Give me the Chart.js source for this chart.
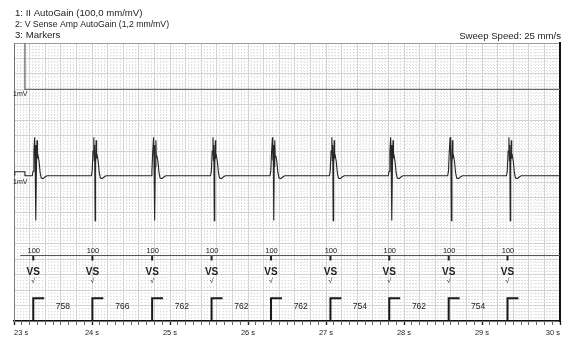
<!DOCTYPE html>
<html>
<head>
<meta charset="utf-8">
<title>Sweep recording</title>
<script src="https://cdn.jsdelivr.net/npm/chart.js@4.4.1/dist/chart.umd.min.js"></script>
<style>
  html, body { margin: 0; padding: 0; background: #fff; }
</style>
</head>
<body>
<canvas id="sweep" width="574" height="359"></canvas>
<script>
// Header lines
const channelTitles = ['1: II AutoGain (100,0 mm/mV)', '2: V Sense Amp AutoGain (1,2 mm/mV)', '3: Markers'];
const titleSizes = [9.6, 8.7, 9.6];
const sweepLabel = 'Sweep Speed: 25 mm/s';

// Time window (s) and paper height (mm)
const timeStart = 23;
const timeEnd = 30;
const paperHeight = 90;

// Channel baselines, mm from the bottom of the paper
const lead2Base = 75;
const vsenseBase = 47;
const markerBase = 21.2;

// Calibration pulse at the start of the strip
const calStart = 23.0;
const calEnd = 23.14;
const lead2CalTop = 140;   // goes off the top of the paper
const vsenseCalTop = 48.3;

// Ventricular sensed events (s), their marker text and the V-V intervals (ms)
const markerTimes = [23.247, 24.005, 24.771, 25.533, 26.295, 27.057, 27.811, 28.573, 29.327];
const markerValues = ['100', '100', '100', '100', '100', '100', '100', '100', '100'];
const markerCodes = ['VS', 'VS', 'VS', 'VS', 'VS', 'VS', 'VS', 'VS', 'VS'];
const intervals = [758, 766, 762, 762, 762, 754, 762, 754];
const markerLineStart = 23.08;

// One sensed complex: offset from its marker (s), deflection (mm)
const complexOffsets = [-0.013, -0.003, 0.008, 0.018, 0.024, 0.029, 0.035, 0.041, 0.048, 0.054, 0.062, 0.075, 0.088, 0.102, 0.125, 0.15, 0.175];
const complexDeflections = [0, 1.5, 8, 12.5, 5, 10, -14.5, 3, 11.5, 6, 6.5, 4.5, 1, -0.7, -0.9, -0.4, 0];

// Interval step marker: height (mm) and length (s)
const stepHeight = 7.4;
const stepLength = 0.14;

const FONT = '"Liberation Sans", Arial, sans-serif';

// --- build the series ---
const lead2Points = [
  { x: timeStart, y: lead2Base },
  { x: calStart, y: lead2CalTop },
  { x: calEnd, y: lead2CalTop },
  { x: calEnd, y: lead2Base },
  { x: timeEnd, y: lead2Base }
];

const vsensePoints = [
  { x: timeStart, y: vsenseBase + 0.3 },
  { x: calStart + 0.01, y: vsenseCalTop },
  { x: calEnd, y: vsenseCalTop },
  { x: calEnd, y: vsenseBase }
];
markerTimes.forEach(t => {
  complexOffsets.forEach((dt, i) => {
    vsensePoints.push({ x: t + dt, y: vsenseBase + complexDeflections[i] });
  });
});
vsensePoints.push({ x: timeEnd, y: vsenseBase });

const markerLinePoints = [{ x: markerLineStart, y: markerBase }, { x: timeEnd, y: markerBase }];

const markerTickPoints = [];
markerTimes.forEach(t => {
  markerTickPoints.push({ x: t, y: markerBase }, { x: t, y: markerBase - 1.6 }, { x: t, y: null });
});

const stepPoints = [];
markerTimes.forEach(t => {
  stepPoints.push({ x: t, y: 0.2 }, { x: t, y: stepHeight }, { x: t + stepLength, y: stepHeight }, { x: t + stepLength, y: null });
});

// ticks on fixed time steps, counted in whole steps to avoid float drift
function timeTicks(step) {
  return axis => {
    const n = Math.round((timeEnd - timeStart) / step);
    const ticks = [];
    for (let i = 0; i <= n; i++) ticks.push({ value: timeStart + i * step });
    axis.ticks = ticks;
  };
}
const isWholeSecond = v => Math.abs(v - Math.round(v)) < 1e-6;

// text drawn on the strip: header, calibration labels, marker annotations
const stripText = {
  id: 'stripText',
  afterDatasetsDraw(chart) {
    const { ctx } = chart;
    const x = chart.scales.x;
    const y = chart.scales.y;
    ctx.save();
    ctx.fillStyle = '#222';

    // header
    ctx.textAlign = 'left';
    ctx.textBaseline = 'middle';
    channelTitles.forEach((line, i) => {
      ctx.font = titleSizes[i] + 'px ' + FONT;
      ctx.fillText(line, 15, 13 + i * 11.3);
    });
    ctx.font = '9.6px ' + FONT;
    ctx.textAlign = 'right';
    ctx.fillText(sweepLabel, 561, 36);

    // calibration labels
    ctx.font = '7px ' + FONT;
    ctx.textAlign = 'left';
    ctx.fillText('1mV', x.left - 1, y.getPixelForValue(lead2Base) + 5);
    ctx.fillText('1mV', x.left - 1, y.getPixelForValue(vsenseBase) + 6);

    // marker channel
    ctx.textAlign = 'center';
    markerTimes.forEach((t, i) => {
      const px = x.getPixelForValue(t);
      ctx.font = '7.5px ' + FONT;
      ctx.textBaseline = 'bottom';
      ctx.fillText(markerValues[i], px + 0.5, y.getPixelForValue(markerBase) - 0.5);
      ctx.font = 'bold 10px ' + FONT;
      ctx.textBaseline = 'middle';
      ctx.fillText(markerCodes[i], px, y.getPixelForValue(15.75));
      ctx.font = '7px ' + FONT;
      ctx.fillText('\u221A', px, y.getPixelForValue(13));
    });

    ctx.font = '8.5px ' + FONT;
    intervals.forEach((ms, i) => {
      const mid = (markerTimes[i] + markerTimes[i + 1]) / 2;
      ctx.fillText(String(ms), x.getPixelForValue(mid), y.getPixelForValue(4.5));
    });
    ctx.restore();
  }
};

const lineStyle = { pointRadius: 0, tension: 0, fill: false, xAxisID: 'x', yAxisID: 'y' };

new Chart(document.getElementById('sweep'), {
  type: 'line',
  data: {
    datasets: [
      { ...lineStyle, label: 'II', data: lead2Points, borderColor: '#6a6a6a', borderWidth: 1.3 },
      { ...lineStyle, label: 'V Sense', data: vsensePoints, borderColor: '#262626', borderWidth: 1.1 },
      { ...lineStyle, label: 'Marker line', data: markerLinePoints, borderColor: '#555', borderWidth: 1.2 },
      { ...lineStyle, label: 'Marker ticks', data: markerTickPoints, borderColor: '#222', borderWidth: 2 },
      { ...lineStyle, label: 'Intervals', data: stepPoints, borderColor: '#1a1a1a', borderWidth: 2 }
    ]
  },
  options: {
    responsive: false,
    animation: false,
    devicePixelRatio: 1,
    layout: { padding: { left: 14, right: 14, top: 43, bottom: 19 } },
    plugins: { legend: { display: false }, tooltip: { enabled: false }, title: { display: false } },
    scales: {
      x: {
        type: 'linear', axis: 'x', position: 'bottom', min: timeStart, max: timeEnd,
        afterBuildTicks: timeTicks(0.1),
        ticks: {
          autoSkip: false, maxRotation: 0, align: 'inner', padding: 3,
          color: '#222', font: { family: FONT, size: 7.5 },
          callback: v => isWholeSecond(v) ? Math.round(v) + ' s' : ''
        },
        grid: {
          drawOnChartArea: false, tickLength: 4,
          tickColor: c => isWholeSecond(c.tick.value) ? '#222' : '#666',
          tickWidth: c => isWholeSecond(c.tick.value) ? 1.4 : 1
        },
        border: { display: true, color: '#111', width: 1.5 }
      },
      xMajor: {
        type: 'linear', axis: 'x', position: 'top', min: timeStart, max: timeEnd,
        afterBuildTicks: timeTicks(0.2),
        ticks: { display: false },
        grid: { color: '#d0d0d0', drawTicks: false },
        border: { display: true, color: '#9a9a9a', width: 1 }
      },
      xMinor: {
        type: 'linear', axis: 'x', position: 'top', min: timeStart, max: timeEnd,
        afterBuildTicks: timeTicks(0.04),
        ticks: { display: false },
        grid: { color: '#d8d8d8', drawTicks: false },
        border: { display: false, dash: [1, 2.12] }
      },
      y: {
        type: 'linear', axis: 'y', position: 'left', min: 0, max: paperHeight,
        ticks: { display: false },
        grid: { display: false, drawTicks: false },
        border: { display: true, color: '#7a7a7a', width: 1 }
      },
      yMajor: {
        type: 'linear', axis: 'y', position: 'left', min: 0, max: paperHeight,
        ticks: { display: false, stepSize: 5 },
        grid: { color: '#d0d0d0', drawTicks: false },
        border: { display: false }
      },
      yMinor: {
        type: 'linear', axis: 'y', position: 'left', min: 0, max: paperHeight,
        ticks: { display: false, stepSize: 1 },
        grid: { color: '#d8d8d8', drawTicks: false },
        border: { display: false, dash: [1, 2.11] }
      },
      yRight: {
        type: 'linear', axis: 'y', position: 'right', min: 0, max: paperHeight,
        ticks: { display: false },
        grid: { display: false, drawTicks: false },
        border: { display: true, color: '#111', width: 2 }
      }
    }
  },
  plugins: [stripText]
});
</script>
</body>
</html>
